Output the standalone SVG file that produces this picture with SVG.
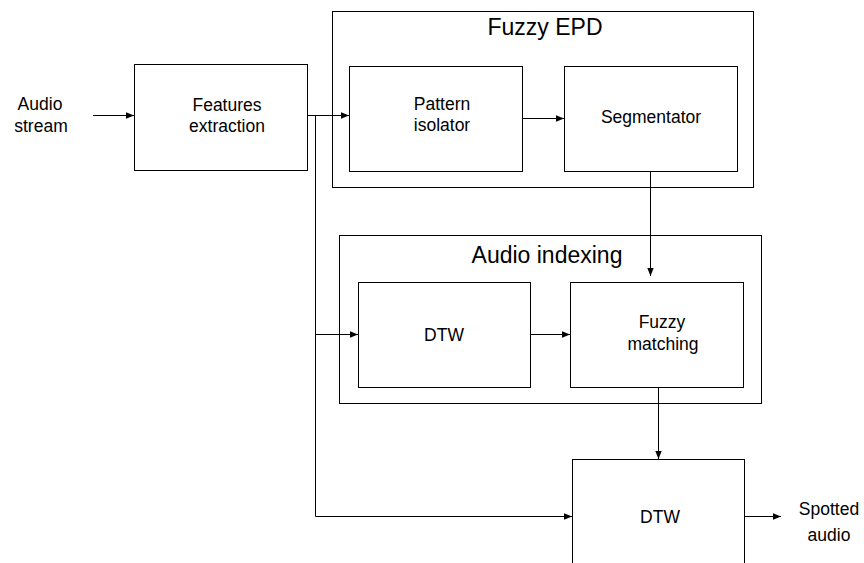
<svg xmlns="http://www.w3.org/2000/svg" width="864" height="563" viewBox="0 0 864 563">
<style>
  .box{fill:#fff;stroke:#000;stroke-width:1}
  .grp{fill:none;stroke:#000;stroke-width:1}
  .t{font-family:"Liberation Sans",Arial,sans-serif;font-size:17.5px;fill:#000;text-anchor:middle}
  .tt{font-family:"Liberation Sans",Arial,sans-serif;font-size:23px;fill:#000;text-anchor:middle}
  .c{fill:none;stroke:#000;stroke-width:1}
</style>
<defs>
  <marker id="ah" markerUnits="userSpaceOnUse" markerWidth="8" markerHeight="8" viewBox="0 0 8 8" refX="8" refY="4" orient="auto">
    <path d="M0,0.8 L8,4 L0,7.2 Z" fill="#000"/>
  </marker>
</defs>
<rect width="864" height="563" fill="#fff"/>

<g id="fuzzy-epd">
  <rect class="grp" x="332.5" y="11.5" width="421" height="176"/>
  <text class="tt" x="545" y="35">Fuzzy EPD</text>
</g>
<g id="audio-indexing">
  <rect class="grp" x="339.5" y="235.5" width="422" height="168"/>
  <text class="tt" x="547" y="263">Audio indexing</text>
</g>

<g id="audio-stream">
  <text class="t" x="40" y="110">Audio</text>
  <text class="t" x="41" y="132">stream</text>
</g>
<g id="features-extraction">
  <rect class="box" x="134.5" y="64.5" width="173" height="106"/>
  <text class="t" x="227" y="111">Features</text>
  <text class="t" x="227" y="132">extraction</text>
</g>
<g id="pattern-isolator">
  <rect class="box" x="349.5" y="66.5" width="173" height="105"/>
  <text class="t" x="442" y="110">Pattern</text>
  <text class="t" x="442" y="131">isolator</text>
</g>
<g id="segmentator">
  <rect class="box" x="564.5" y="66.5" width="173" height="105"/>
  <text class="t" x="651" y="123">Segmentator</text>
</g>
<g id="dtw1">
  <rect class="box" x="358.5" y="282.5" width="172" height="105"/>
  <text class="t" x="444" y="341">DTW</text>
</g>
<g id="fuzzy-matching">
  <rect class="box" x="570.5" y="282.5" width="173" height="105"/>
  <text class="t" x="662" y="328">Fuzzy</text>
  <text class="t" x="663" y="350">matching</text>
</g>
<g id="dtw2">
  <rect class="box" x="572.5" y="459.5" width="172" height="120"/>
  <text class="t" x="660" y="523">DTW</text>
</g>
<g id="spotted-audio">
  <text class="t" x="829" y="515">Spotted</text>
  <text class="t" x="829" y="541">audio</text>
</g>

<g id="connectors">
  <path class="c" d="M93,115.5 H134" marker-end="url(#ah)"/>
  <path class="c" d="M307,115.5 H349" marker-end="url(#ah)"/>
  <path class="c" d="M315.5,115.5 V516.5 H572" marker-end="url(#ah)"/>
  <path class="c" d="M315.5,334.5 H358" marker-end="url(#ah)"/>
  <path class="c" d="M522,118.5 H564" marker-end="url(#ah)"/>
  <path class="c" d="M650.5,171 V276" marker-end="url(#ah)"/>
  <path class="c" d="M530,334.5 H570" marker-end="url(#ah)"/>
  <path class="c" d="M658.5,387 V459" marker-end="url(#ah)"/>
  <path class="c" d="M745,516.5 H781" marker-end="url(#ah)"/>
</g>
</svg>
